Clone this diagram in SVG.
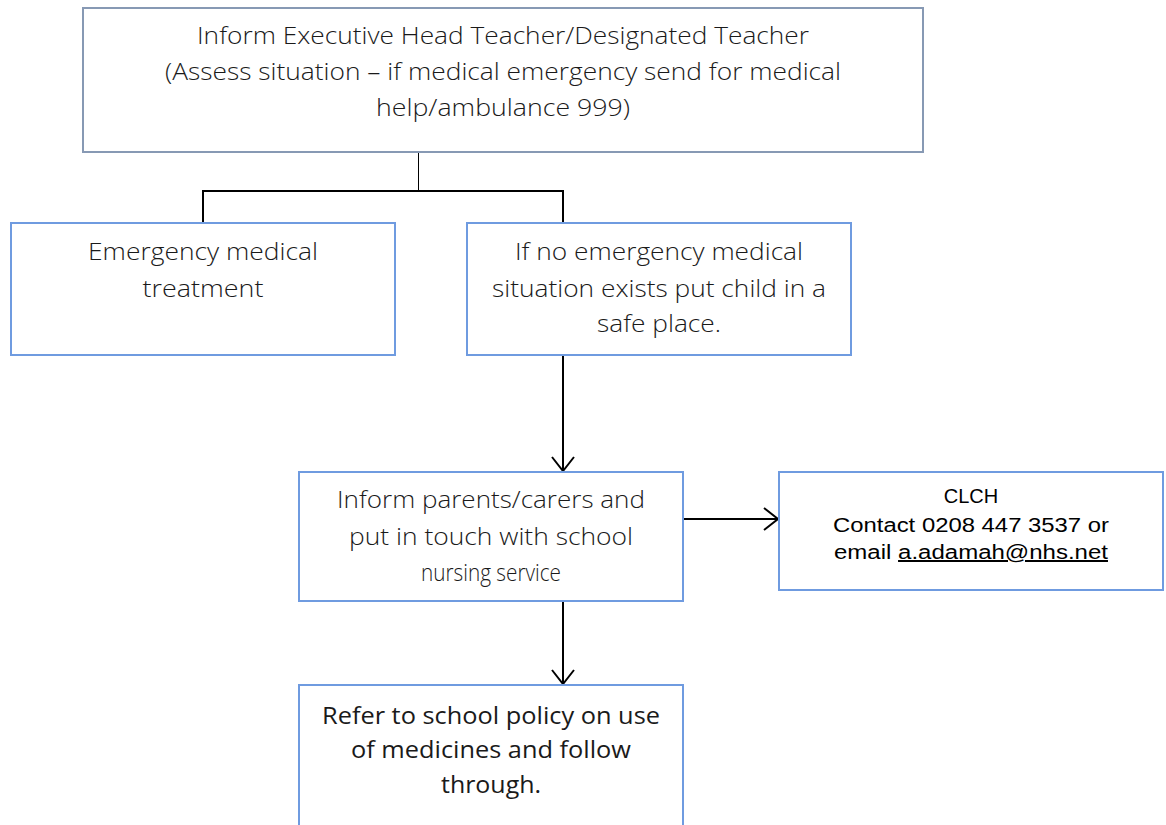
<svg xmlns="http://www.w3.org/2000/svg" width="1166" height="825" viewBox="0 0 1166 825">
<defs>
<style>
.box{fill:#fff;stroke:#6f9be0;stroke-width:2}
.boxg{fill:#fff;stroke:#8799b4;stroke-width:2}
.t{font-family:"Open Sans","Noto Sans",sans-serif;font-weight:300;font-size:23px;fill:#1a1a1a;text-anchor:middle}
.t2{font-family:"Open Sans","Noto Sans",sans-serif;font-weight:400;font-size:23px;fill:#1a1a1a;text-anchor:middle}
.a{font-family:"Liberation Sans",Arial,sans-serif;font-size:20px;fill:#000;text-anchor:middle}
.c{fill:none;stroke:#000;stroke-width:2}
</style>
<marker id="arr" viewBox="0 0 16 24" refX="15" refY="12" markerWidth="16" markerHeight="24" markerUnits="userSpaceOnUse" orient="auto">
<path d="M1,1 L15,12 L1,23" fill="none" stroke="#000" stroke-width="2"/>
</marker>
</defs>
<rect width="1166" height="825" fill="#fff"/>
<g id="connectors">
<line x1="418.5" y1="152" x2="418.5" y2="191" stroke="#000" stroke-width="1"/>
<path class="c" d="M203,223 V191 H563 V223"/>
<line class="c" x1="563" y1="356" x2="563" y2="471" marker-end="url(#arr)"/>
<line class="c" x1="684" y1="519" x2="778" y2="519" marker-end="url(#arr)"/>
<line class="c" x1="563" y1="602" x2="563" y2="684" marker-end="url(#arr)"/>
</g>
<g id="n1">
<rect class="boxg" x="83" y="8" width="840" height="144"/>
<text class="t" x="503" y="44" textLength="612" lengthAdjust="spacingAndGlyphs">Inform Executive Head Teacher/Designated Teacher</text>
<text class="t" x="503" y="80" textLength="676" lengthAdjust="spacingAndGlyphs">(Assess situation – if medical emergency send for medical</text>
<text class="t" x="503" y="116" textLength="254" lengthAdjust="spacingAndGlyphs">help/ambulance 999)</text>
</g>
<g id="n2">
<rect class="box" x="11" y="223" width="384" height="132"/>
<text class="t" x="203" y="260" textLength="230" lengthAdjust="spacingAndGlyphs">Emergency medical</text>
<text class="t" x="203" y="297" textLength="121" lengthAdjust="spacingAndGlyphs">treatment</text>
</g>
<g id="n3">
<rect class="box" x="467" y="223" width="384" height="132"/>
<text class="t" x="659" y="260" textLength="288" lengthAdjust="spacingAndGlyphs">If no emergency medical</text>
<text class="t" x="659" y="297" textLength="334" lengthAdjust="spacingAndGlyphs">situation exists put child in a</text>
<text class="t" x="659" y="332" textLength="124" lengthAdjust="spacingAndGlyphs">safe place.</text>
</g>
<g id="n4">
<rect class="box" x="299" y="472" width="384" height="129"/>
<text class="t" x="491" y="508" textLength="308" lengthAdjust="spacingAndGlyphs">Inform parents/carers and</text>
<text class="t" x="491" y="545" textLength="284" lengthAdjust="spacingAndGlyphs">put in touch with school</text>
<text class="t" x="491" y="581" textLength="140" lengthAdjust="spacingAndGlyphs">nursing service</text>
</g>
<g id="n5">
<rect class="box" x="779" y="472" width="384" height="118"/>
<text class="a" x="971" y="503">CLCH</text>
<text class="a" x="971" y="532" textLength="276" lengthAdjust="spacingAndGlyphs">Contact 0208 447 3537 or</text>
<text class="a" x="971" y="559" textLength="274" lengthAdjust="spacingAndGlyphs">email <tspan text-decoration="underline">a.adamah@nhs.net</tspan></text>
</g>
<g id="n6">
<rect class="box" x="299" y="685" width="384" height="150"/>
<text class="t2" x="491" y="724" textLength="338" lengthAdjust="spacingAndGlyphs">Refer to school policy on use</text>
<text class="t2" x="491" y="758" textLength="280" lengthAdjust="spacingAndGlyphs">of medicines and follow</text>
<text class="t2" x="491" y="793" textLength="100" lengthAdjust="spacingAndGlyphs">through.</text>
</g>
</svg>
